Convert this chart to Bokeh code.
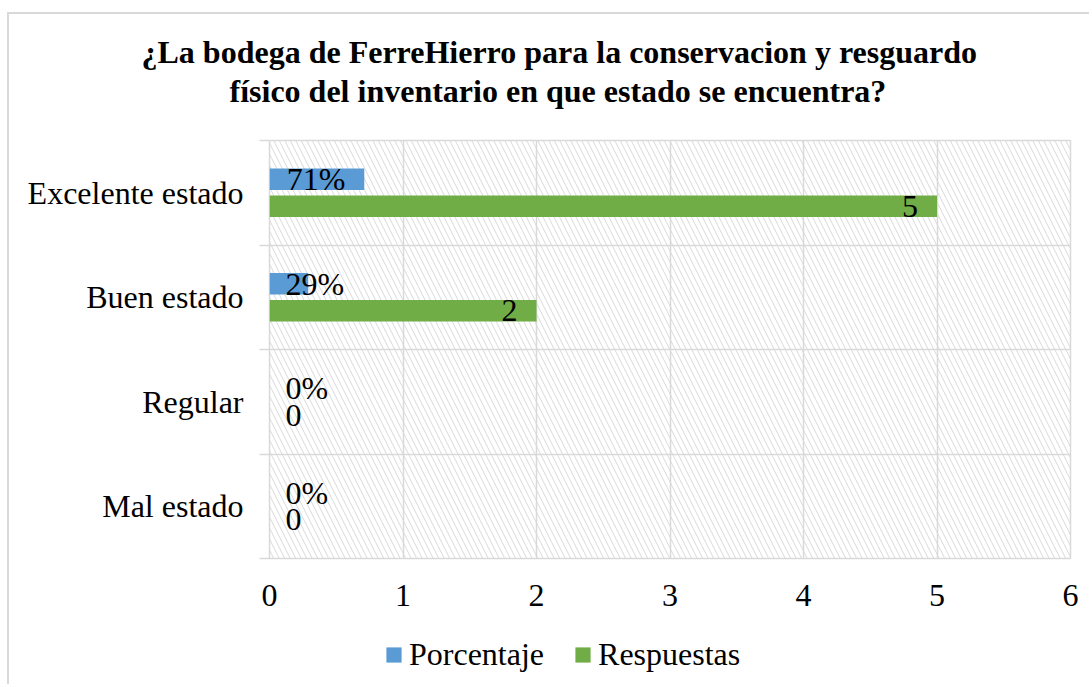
from bokeh.plotting import figure
from bokeh.layouts import column
from bokeh.models import (Range1d, FixedTicker, ColumnDataSource, Legend,
                          LegendItem, BoxAnnotation, Title, LinearAxis)
from bokeh.embed import file_html
from bokeh.resources import INLINE
from bokeh.core.properties import value

# ---------------- data ----------------
categories = ["Excelente estado", "Buen estado", "Regular", "Mal estado"]
porcentaje = [0.71, 0.29, 0.0, 0.0]
respuestas = [5, 2, 0, 0]
x_ticks = [0, 1, 2, 3, 4, 5, 6]
series_names = ["Porcentaje", "Respuestas"]
title_lines = ["¿La  bodega  de FerreHierro para la conservacion y resguardo",
               "físico del inventario en que estado se encuentra?"]

# ---------------- style ----------------
FONT = "Liberation Serif"
BLUE = "#5B9BD5"
GREEN = "#70AD47"
GRID = "#d9d9d9"
W, H1, H2 = 1080, 620, 50
ML, MR, MT, MB = 260, 19, 126, 76
FRAME_W = W - ML - MR

n = len(categories)
centers = [n - i - 0.5 for i in range(n)]
bounds = list(range(n + 1))
DODGE = 0.13
BAR_H = 0.205

p = figure(width=W, height=H1, output_backend="svg", toolbar_location=None,
           x_range=Range1d(x_ticks[0], x_ticks[-1]), y_range=Range1d(0, n),
           min_border_left=ML, min_border_right=MR, min_border_top=MT,
           min_border_bottom=MB, background_fill_color="white",
           border_fill_color="white")

p.outline_line_color = GRID
p.outline_line_width = 1.5

# hatched plot area
p.add_layout(BoxAnnotation(fill_alpha=0, line_color=None, hatch_pattern="\\",
                           hatch_color="#d9d9d9", hatch_scale=11, hatch_weight=1,
                           level="image"))

r1 = p.hbar(y=[c + DODGE for c in centers], left=0, right=porcentaje,
            height=BAR_H, fill_color=BLUE, line_color=None)
r2 = p.hbar(y=[c - DODGE for c in centers], left=0, right=respuestas,
            height=BAR_H, fill_color=GREEN, line_color=None)

# data labels (Excel "inside end", pushed to base when bar too short)
px_per_unit = FRAME_W / (x_ticks[-1] - x_ticks[0])
lx, ly, lt, la, lo = [], [], [], [], []
for vals, fmt, off, est_w in ((porcentaje, lambda v: f"{round(v * 100)}%", DODGE, 56),
                              (respuestas, lambda v: f"{int(v)}", -DODGE, 16)):
    for c, v in zip(centers, vals):
        ly.append(c + off)
        lt.append(fmt(v))
        if v * px_per_unit - 20 >= est_w + 16:
            lx.append(v); la.append("right"); lo.append(-19)
        else:
            lx.append(0); la.append("left"); lo.append(16)
lsrc = ColumnDataSource(dict(x=lx, y=ly, text=lt, align=la, xoff=lo))
p.text(x="x", y="y", text="text", text_align="align", x_offset="xoff",
       source=lsrc, text_baseline="middle", text_font=value(FONT),
       text_font_size="32px", text_color="black")

# axes
p.xaxis.ticker = FixedTicker(ticks=x_ticks)
p.xaxis.axis_line_color = None
p.xaxis.major_tick_line_color = None
p.xaxis.minor_tick_line_color = None
p.xaxis.major_label_text_font = FONT
p.xaxis.major_label_text_font_size = "32px"
p.xaxis.major_label_text_color = "black"
p.xaxis.major_label_standoff = 20

p.yaxis.ticker = FixedTicker(ticks=centers, minor_ticks=bounds)
p.yaxis.major_label_overrides = {c: cat for c, cat in zip(centers, categories)}
p.yaxis.axis_line_color = None
p.yaxis.major_tick_line_color = None
p.yaxis.major_tick_out = 0
p.yaxis.major_tick_in = 0
p.yaxis.minor_tick_line_color = GRID
p.yaxis.minor_tick_line_width = 1.5
p.yaxis.minor_tick_out = 10
p.yaxis.minor_tick_in = 0
p.yaxis.major_label_text_font = FONT
p.yaxis.major_label_text_font_size = "32px"
p.yaxis.major_label_text_color = "black"
p.yaxis.major_label_standoff = 16

p.xgrid.grid_line_color = GRID
p.xgrid.grid_line_width = 1.5
p.ygrid.ticker = FixedTicker(ticks=bounds)
p.ygrid.grid_line_color = GRID
p.ygrid.grid_line_width = 1.5

# blank spacer between plot area and title (white tick on white)
spacer = LinearAxis(ticker=FixedTicker(ticks=[x_ticks[0]]),
                    major_label_overrides={x_ticks[0]: ""},
                    major_label_text_font_size="1px", major_label_standoff=0,
                    axis_line_color=None, major_tick_line_color="white",
                    minor_tick_line_color=None, major_tick_out=31,
                    major_tick_in=0)
p.add_layout(spacer, "above")

# title: two lines, the second one added first (closest to the frame)
for line, off in ((title_lines[1], -40), (title_lines[0], -128)):
    p.add_layout(Title(text=line, align="left", offset=off, standoff=1,
                       text_font=FONT, text_font_style="bold",
                       text_font_size="32px", text_color="black"), "above")

# legend strip (its own small figure so nothing is clipped)
q = figure(width=W, height=H2, output_backend="svg", toolbar_location=None,
           x_range=Range1d(0, 1), y_range=Range1d(0, 1),
           x_axis_location=None, y_axis_location=None, min_border=0,
           background_fill_color="white", border_fill_color="white")
q.outline_line_color = None
q.grid.visible = False
d1 = q.hbar(y=[-5], left=0, right=[1], height=1, fill_color=BLUE, line_color=None)
d2 = q.hbar(y=[-5], left=0, right=[1], height=1, fill_color=GREEN, line_color=None)
legend = Legend(items=[LegendItem(label=series_names[0], renderers=[d1]),
                       LegendItem(label=series_names[1], renderers=[d2])],
                location=(115, 11), orientation="horizontal",
                glyph_width=19, glyph_height=19, label_standoff=6, spacing=29,
                label_text_font=FONT, label_text_font_size="32px",
                label_text_color="black", label_height=36, padding=0, margin=0,
                border_line_color=None, background_fill_alpha=0)
q.add_layout(legend)

layout = column(p, q, spacing=0,
                styles={"margin-left": "7px", "margin-top": "12px",
                        "border-left": "2px solid #d9d9d9",
                        "border-top": "2px solid #d9d9d9"})

open("out.html", "w").write(file_html(layout, INLINE))
